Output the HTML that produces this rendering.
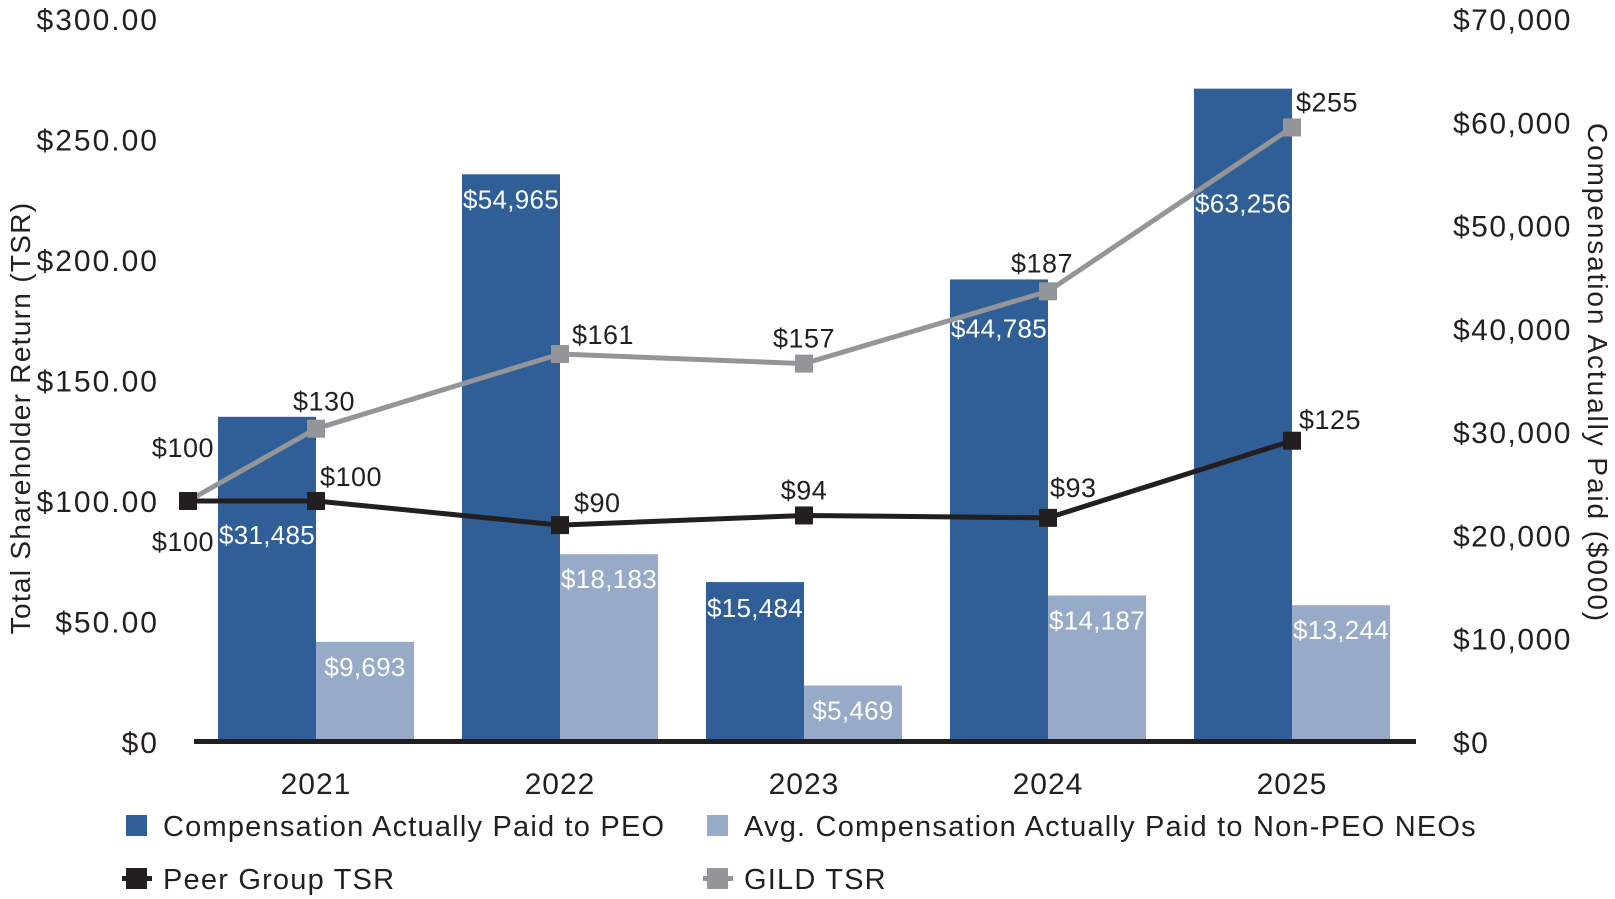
<!DOCTYPE html>
<html><head><meta charset="utf-8"><style>
html,body{margin:0;padding:0;background:#fff}
svg{display:block;font-family:"Liberation Sans",Arial,sans-serif}
</style></head><body>
<svg id="chart" width="1615" height="899" viewBox="0 0 1615 899" xmlns="http://www.w3.org/2000/svg"></svg>
<script>
const years = ["2021","2022","2023","2024","2025"];
const peoComp = [31485, 54965, 15484, 44785, 63256];
const neoComp = [9693, 18183, 5469, 14187, 13244];
const peerTsr = [100, 100, 90, 94, 93, 125];
const gildTsr = [100, 130, 161, 157, 187, 255];
const leftTicks = [0, 50, 100, 150, 200, 250, 300];
const leftTickLabels = ["$0","$50.00","$100.00","$150.00","$200.00","$250.00","$300.00"];
const rightTicks = [0,10000,20000,30000,40000,50000,60000,70000];
const rightTickLabels = ["$0","$10,000","$20,000","$30,000","$40,000","$50,000","$60,000","$70,000"];

const svg = document.getElementById('chart');
const NS = "http://www.w3.org/2000/svg";
const y0 = 742, yTop = 19;
const yL = v => y0 - (v/300)*(y0-yTop);
const yR = v => y0 - (v/70000)*(y0-yTop);
const xC = i => 316 + i*244;
const xLine = i => i===0 ? 188 : xC(i-1);
const bw = 98;
const fmt = n => "$" + n.toLocaleString("en-US");
// label placement styling (not data)
const peoLabelDy = [127, 34, 35, 58, 124];
const gildLabelStyle = [[26,-44,'end'],[8,-18,'middle'],[12,-10,'start'],[0,-16,'middle'],[-6,-19,'middle'],[4,-16,'start']];
const peerLabelStyle = [[26,50,'end'],[4,-15,'start'],[14,-13,'start'],[0,-16,'middle'],[2,-21,'start'],[7,-12,'start']];

function mk(tag, attrs, text){
  const e = document.createElementNS(NS, tag);
  for (const k in attrs) e.setAttribute(k, attrs[k]);
  if (text !== undefined) e.textContent = text;
  svg.appendChild(e);
  return e;
}

leftTicks.forEach((v,i)=>{
  const t = mk('text',{x:159,y:yL(v)+11,'text-anchor':'end','font-size':30,'letter-spacing':2,fill:'#231f20'},leftTickLabels[i]);
  
  
});
rightTicks.forEach((v,i)=>{
  const t = mk('text',{x:1453,y:yR(v)+11,'text-anchor':'start','font-size':30,'letter-spacing':1.5,fill:'#231f20'},rightTickLabels[i]);
  
  
});
let at = mk('text',{x:0,y:0,transform:'translate(30,418) rotate(-90)','text-anchor':'middle','font-size':28,'letter-spacing':1.3,fill:'#231f20'},'Total Shareholder Return (TSR)');
 
at = mk('text',{x:0,y:0,transform:'translate(1588,373) rotate(90)','text-anchor':'middle','font-size':28,'letter-spacing':1.9,fill:'#231f20'},'Compensation Actually Paid ($000)');
 

years.forEach((y,i)=>{
  const cx = xC(i);
  const b1 = mk('rect',{x:cx-bw,y:yR(peoComp[i]),width:bw,height:y0-yR(peoComp[i]),fill:'#2f5f96'});
  
  
  const b2 = mk('rect',{x:cx,y:yR(neoComp[i]),width:bw,height:y0-yR(neoComp[i]),fill:'#97abc8'});
  
  
  const l1 = mk('text',{x:cx-bw/2,y:yR(peoComp[i])+peoLabelDy[i],'text-anchor':'middle','font-size':26,'letter-spacing':0.3,fill:'#fff'},fmt(peoComp[i]));
  
  
  const l2 = mk('text',{x:cx+bw/2,y:yR(neoComp[i])+34,'text-anchor':'middle','font-size':26,'letter-spacing':0.3,fill:'#fff'},fmt(neoComp[i]));
  
  
  const xl = mk('text',{x:cx,y:794,'text-anchor':'middle','font-size':30,'letter-spacing':1,fill:'#231f20'},y);
  
  
});
const ax = mk('rect',{x:194,y:739,width:1222,height:5,fill:'#231f20'});
 

function series(vals,color,name,style){
  const pts = vals.map((v,i)=>xLine(i)+','+yL(v)).join(' ');
  const pl = mk('polyline',{points:pts,fill:'none',stroke:color,'stroke-width':5});
  
  
  vals.forEach((v,i)=>{
    const m = mk('rect',{x:xLine(i)-9,y:yL(v)-9,width:18,height:18,fill:color});
    
    
    const p = style[i];
    const t = mk('text',{x:xLine(i)+p[0],y:yL(v)+p[1],'text-anchor':p[2],'font-size':27,'letter-spacing':0.5,fill:'#231f20'},'$'+v);
    
    
  });
}
series(gildTsr,'#939598','gild-tsr',gildLabelStyle);
series(peerTsr,'#231f20','peer-tsr',peerLabelStyle);

const leg = [
  {x:126,y:815,c:'#2f5f96',t:'Compensation Actually Paid to PEO',line:false,n:'legend-peo'},
  {x:707,y:815,c:'#97abc8',t:'Avg. Compensation Actually Paid to Non-PEO NEOs',line:false,n:'legend-neo'},
  {x:126,y:868,c:'#231f20',t:'Peer Group TSR',line:true,n:'legend-peer-tsr'},
  {x:707,y:868,c:'#939598',t:'GILD TSR',line:true,n:'legend-gild-tsr'}
];
leg.forEach(l=>{
  if(l.line){
    const ln = mk('rect',{x:l.x-4,y:l.y+8,width:30,height:5,fill:l.c});
     
  }
  const s = mk('rect',{x:l.x,y:l.y,width:21,height:21,fill:l.c});
   
  const t = mk('text',{x:l.x+37,y:l.y+21,'font-size':29,'letter-spacing':1.2,fill:'#231f20'},l.t);
   
});
</script>
</body></html>
